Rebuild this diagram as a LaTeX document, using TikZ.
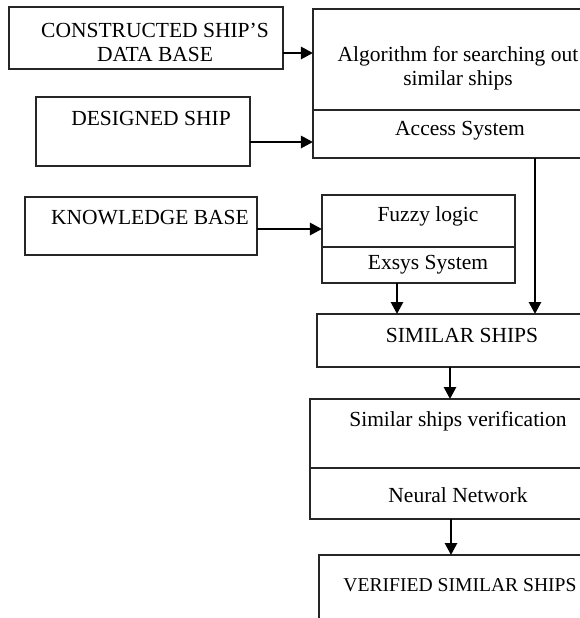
\documentclass[tikz,border=0pt]{standalone}
\usepackage{fontspec}
\setmainfont{Liberation Serif}
\usetikzlibrary{arrows.meta,fit}
\begin{document}
\begin{tikzpicture}[x=0.5pt,y=-0.5pt,
  box/.style={draw=black!85,line width=0.7pt,inner sep=0pt,outer sep=0pt},
  txt/.style={inner sep=0pt,align=center,font=\fontsize{10.75}{12}\selectfont},
  arr/.style={line width=1.35pt,-{Triangle[length=6pt,width=6pt]}}]
\useasboundingbox (0,0) rectangle (580,618);
\clip (0,0) rectangle (580,618);
% boxes
\node[box,fit={(9,7)(283,69)}] (cdb) {};
\node[box,fit={(36,97)(250,166)}] (des) {};
\node[box,fit={(313,9)(605,110)}] (alg) {};
\node[box,fit={(313,110)(605,158)}] (acc) {};
\node[box,fit={(25,197)(257,255)}] (kb) {};
\node[box,fit={(322,195)(515,247)}] (fuz) {};
\node[box,fit={(322,247)(515,283)}] (exs) {};
\node[box,fit={(317,314)(605,367)}] (sim) {};
\node[box,fit={(310,399)(605,468)}] (ver) {};
\node[box,fit={(310,468)(605,519)}] (nn) {};
\node[box,fit={(319,555)(605,650)}] (vsim) {};
% texts
\node[txt] (cdbt) at (155,42) {CONSTRUCTED SHIP'S\\DATA BASE};
\node[txt] (dest) at (151,118) {DESIGNED SHIP};
\node[txt] (algt) at (458,68) {Algorithm for searching out\\similar ships};
\node[txt] (acct) at (460,131) {Access System};
\node[txt] (kbt) at (150,218) {KNOWLEDGE BASE};
\node[txt] (fuzt) at (428,216) {Fuzzy logic};
\node[txt] (exst) at (428,265) {Exsys System};
\node[txt] (simt) at (462,335) {SIMILAR SHIPS};
\node[txt] (vert) at (458,421) {Similar ships verification};
\node[txt] (nnt) at (458,495) {Neural Network};
\node[txt,font=\fontsize{9.8}{12}\selectfont] (vsimt) at (460,585) {VERIFIED SIMILAR SHIPS};
% connector levels
\coordinate (ya) at (0,53);
\coordinate (yb) at (0,142);
\coordinate (yc) at (0,229);
\coordinate (xa) at (397,0);
\coordinate (xb) at (535,0);
\coordinate (xc) at (450,0);
\coordinate (xd) at (451,0);
% connectors
\draw[arr] (cdb.east |- ya) -- (alg.west |- ya);
\draw[arr] (des.east |- yb) -- (acc.west |- yb);
\draw[arr] (kb.east |- yc) -- (fuz.west |- yc);
\draw[arr] (exs.south -| xa) -- (sim.north -| xa);
\draw[arr] (acc.south -| xb) -- (sim.north -| xb);
\draw[arr] (sim.south -| xc) -- (ver.north -| xc);
\draw[arr] (nn.south -| xd) -- (vsim.north -| xd);
\end{tikzpicture}
\end{document}
